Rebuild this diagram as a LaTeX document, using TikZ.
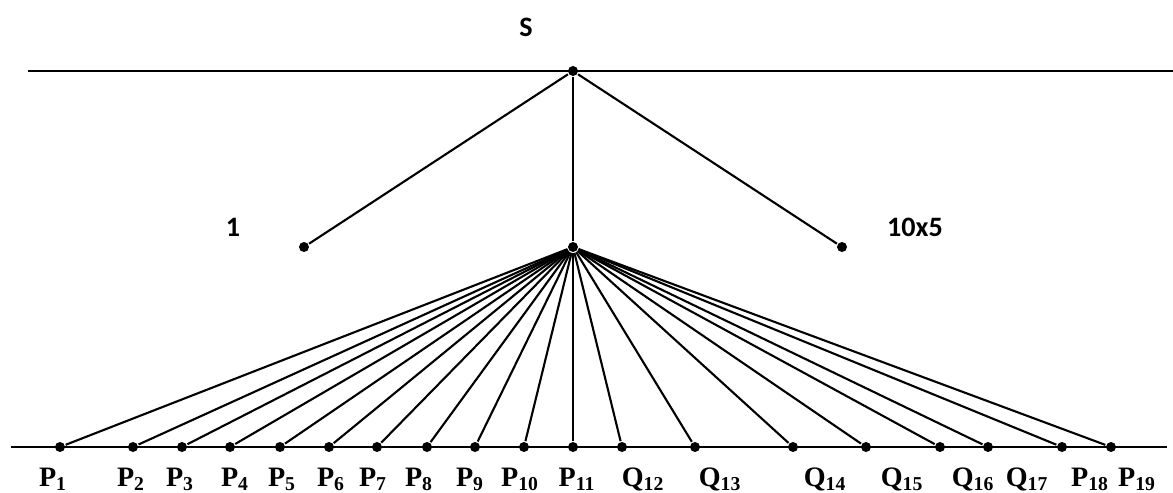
\documentclass[tikz,border=0pt]{standalone}
\usepackage{fontspec}
\setmainfont{Liberation Serif}
\newfontfamily\calibri{Carlito}
\begin{document}
\begin{tikzpicture}[x=0.02cm,y=-0.02cm,line width=1.2pt,
  sommet/.style={circle,fill,inner sep=0pt,minimum size=0.2cm},
  etiq/.style={font=\fontsize{16}{18}\selectfont\bfseries,anchor=base},
  titre/.style={font=\calibri\fontsize{16}{18}\selectfont\bfseries}]
\useasboundingbox (0,0) rectangle (1173,493);
% Lignes horizontales
\coordinate (h1) at (28,71);
\coordinate (h2) at (1173,71);
\coordinate (b1) at (11,447);
\coordinate (b2) at (1167,447);
\draw (h1) -- (h2);
\draw (b1) -- (b2);
% Sommets du haut
\node[sommet] (S) at (573,71) {};
\node[sommet] (A) at (304,247) {};
\node[sommet] (M) at (573,247) {};
\node[sommet] (B) at (842,247) {};
\node[titre] (tS) at (526,27) {S};
\node[titre] (tA) at (233,227) {1};
\node[titre] (tB) at (915,227) {10x5};
\draw (S) -- (A);
\draw (S) -- (M);
\draw (S) -- (B);
% Points du bas : P_1 à P_19
\foreach \i/\x/\lx/\lab in {1/60/53/P, 2/133/131/P, 3/182/180/P, 4/230/235/P,
  5/280/282/P, 6/329/331/P, 7/377/373/P, 8/427/419/P, 9/475/470/P,
  10/524/520/P, 11/573/577/P, 12/622/643/Q, 13/695/720/Q, 14/793/825/Q,
  15/866/902/Q, 16/940/973/Q, 17/988/1027/Q, 18/1062/1090/P, 19/1111/1137/P} {
  \node[sommet] (p\i) at (\x,447) {};
  \node[etiq] (e\i) at (\lx,486) {\lab\textsubscript{\i}};
  \draw (M) -- (p\i);
}
\end{tikzpicture}
\end{document}
